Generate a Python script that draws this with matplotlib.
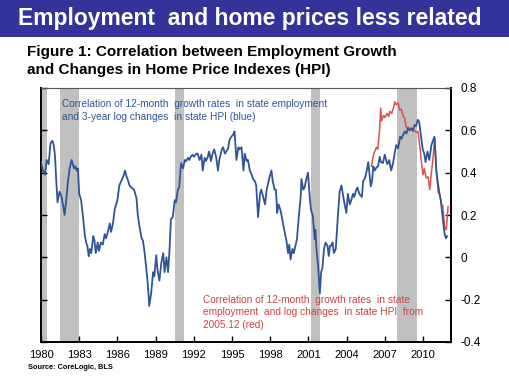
import matplotlib

matplotlib.use("Agg")
import matplotlib.pyplot as plt
from matplotlib.patches import Rectangle

plt.rcParams["font.family"] = ["Liberation Sans", "DejaVu Sans"]

# NBER recessions (start, end) in decimal years
recessions = [(1980.0, 1980.5), (1981.5, 1982.95), (1990.55, 1991.25), (2001.2, 2001.9), (2007.95, 2009.5)]

# correlation of 12-month employment growth and 3-year log HPI changes (blue)
blue_years = [
    1980.0, 1980.15, 1980.3, 1980.45, 1980.6, 1980.75, 1980.9, 1981.0, 1981.1, 1981.2,
    1981.3, 1981.45, 1981.6, 1981.75, 1981.85, 1982.0, 1982.1, 1982.25, 1982.4, 1982.5,
    1982.6, 1982.7, 1982.8, 1982.9, 1983.0, 1983.15, 1983.3, 1983.45, 1983.55, 1983.65,
    1983.75, 1983.85, 1983.95, 1984.1, 1984.2, 1984.3, 1984.45, 1984.55, 1984.7, 1984.85,
    1985.0, 1985.1, 1985.25, 1985.4, 1985.5, 1985.65, 1985.8, 1986.0, 1986.15, 1986.3,
    1986.45, 1986.6, 1986.7, 1986.85, 1986.95, 1987.1, 1987.3, 1987.5, 1987.6, 1987.75,
    1987.9, 1988.0, 1988.1, 1988.25, 1988.4, 1988.5, 1988.65, 1988.8, 1988.9, 1989.05,
    1989.15, 1989.3, 1989.45, 1989.6, 1989.7, 1989.85, 1989.98, 1990.1, 1990.2, 1990.35,
    1990.5, 1990.6, 1990.75, 1990.85, 1991.0, 1991.15, 1991.3, 1991.4, 1991.55, 1991.65,
    1991.75, 1991.9, 1992.0, 1992.2, 1992.3, 1992.45, 1992.6, 1992.7, 1992.85, 1992.95,
    1993.1, 1993.2, 1993.35, 1993.45, 1993.6, 1993.75, 1993.9, 1994.0, 1994.2, 1994.3,
    1994.45, 1994.55, 1994.7, 1994.8, 1994.95, 1995.1, 1995.2, 1995.35, 1995.5, 1995.6,
    1995.75, 1995.9, 1996.0, 1996.15, 1996.25, 1996.4, 1996.55, 1996.65, 1996.8, 1996.9,
    1997.05, 1997.2, 1997.3, 1997.45, 1997.6, 1997.7, 1997.8, 1997.95, 1998.1, 1998.2,
    1998.35, 1998.45, 1998.55, 1998.65, 1998.8, 1998.9, 1999.1, 1999.3, 1999.4, 1999.5,
    1999.6, 1999.75, 1999.85, 1999.98, 2000.1, 2000.25, 2000.4, 2000.45, 2000.6, 2000.7,
    2000.84, 2000.97, 2001.1, 2001.2, 2001.35, 2001.5, 2001.55, 2001.63, 2001.76, 2001.9,
    2002.0, 2002.1, 2002.23, 2002.35, 2002.5, 2002.6, 2002.7, 2002.8, 2002.9, 2003.0,
    2003.15, 2003.3, 2003.45, 2003.6, 2003.7, 2003.85, 2003.98, 2004.1, 2004.25, 2004.37,
    2004.5, 2004.6, 2004.76, 2004.85, 2005.0, 2005.2, 2005.3, 2005.45, 2005.55, 2005.7,
    2005.8, 2005.9, 2006.0, 2006.1, 2006.2, 2006.35, 2006.47, 2006.6, 2006.7, 2006.85,
    2007.0, 2007.1, 2007.2, 2007.35, 2007.5, 2007.65, 2007.8, 2007.9, 2008.05, 2008.2,
    2008.3, 2008.45, 2008.57, 2008.7, 2008.83, 2008.95, 2009.1, 2009.2, 2009.35, 2009.45,
    2009.6, 2009.7, 2009.87, 2009.98, 2010.1, 2010.2, 2010.35, 2010.5, 2010.66, 2010.75,
    2010.9, 2011.05, 2011.15, 2011.3, 2011.4, 2011.58, 2011.7, 2011.8, 2011.9,
]
blue_vals = [
    0.45, 0.41, 0.39, 0.46, 0.44, 0.54, 0.55, 0.53, 0.48, 0.36,
    0.26, 0.31, 0.29, 0.24, 0.20, 0.28, 0.35, 0.42, 0.46, 0.44,
    0.42, 0.43, 0.41, 0.42, 0.30, 0.27, 0.19, 0.10, 0.07, 0.05,
    0.005, 0.04, 0.02, 0.10, 0.08, 0.02, 0.07, 0.03, 0.07, 0.06,
    0.11, 0.09, 0.12, 0.16, 0.12, 0.16, 0.23, 0.27, 0.34, 0.36,
    0.38, 0.41, 0.385, 0.36, 0.34, 0.33, 0.32, 0.28, 0.20, 0.14,
    0.09, 0.08, 0.04, -0.04, -0.135, -0.23, -0.17, -0.07, -0.09, 0.01,
    -0.06, -0.11, -0.025, 0.02, -0.07, 0.00, -0.07, 0.04, 0.18, 0.19,
    0.27, 0.26, 0.32, 0.33, 0.445, 0.42, 0.46, 0.455, 0.47, 0.46,
    0.475, 0.485, 0.475, 0.49, 0.49, 0.46, 0.485, 0.41, 0.47, 0.455,
    0.475, 0.50, 0.455, 0.485, 0.51, 0.475, 0.41, 0.46, 0.51, 0.52,
    0.49, 0.50, 0.515, 0.555, 0.57, 0.58, 0.595, 0.46, 0.52, 0.51,
    0.52, 0.41, 0.49, 0.455, 0.46, 0.41, 0.39, 0.37, 0.36, 0.34,
    0.19, 0.30, 0.32, 0.285, 0.25, 0.31, 0.34, 0.38, 0.41, 0.36,
    0.32, 0.32, 0.21, 0.25, 0.225, 0.195, 0.13, 0.07, 0.02, 0.06,
    -0.01, 0.04, 0.02, 0.055, 0.085, 0.195, 0.29, 0.37, 0.32, 0.33,
    0.37, 0.40, 0.29, 0.225, 0.195, 0.085, 0.13, 0.04, -0.04, -0.17,
    -0.07, -0.05, 0.04, 0.07, 0.055, 0.006, 0.055, 0.055, 0.07, 0.02,
    0.04, 0.18, 0.31, 0.34, 0.30, 0.25, 0.21, 0.30, 0.25, 0.27,
    0.30, 0.285, 0.32, 0.33, 0.30, 0.285, 0.36, 0.375, 0.40, 0.45,
    0.39, 0.335, 0.36, 0.43, 0.41, 0.425, 0.43, 0.475, 0.45, 0.445,
    0.485, 0.46, 0.44, 0.46, 0.41, 0.445, 0.50, 0.53, 0.515, 0.57,
    0.56, 0.58, 0.595, 0.585, 0.61, 0.60, 0.61, 0.60, 0.625, 0.62,
    0.65, 0.64, 0.56, 0.51, 0.49, 0.45, 0.50, 0.46, 0.53, 0.545,
    0.57, 0.41, 0.36, 0.30, 0.27, 0.17, 0.11, 0.09, 0.10,
]

# correlation with log HPI changes from 2005.12 (red)
red_years = [
    2005.95, 2006.08, 2006.2, 2006.34, 2006.45, 2006.6, 2006.68, 2006.75, 2006.9, 2007.0,
    2007.18, 2007.3, 2007.4, 2007.55, 2007.7, 2007.78, 2007.9, 2008.05, 2008.17, 2008.3,
    2008.45, 2008.55, 2008.7, 2008.85, 2008.95, 2009.1, 2009.2, 2009.35, 2009.48, 2009.6,
    2009.74, 2009.87, 2010.0, 2010.1, 2010.25, 2010.4, 2010.53, 2010.66, 2010.8, 2010.92,
    2011.05, 2011.2, 2011.3, 2011.45, 2011.55, 2011.7, 2011.83, 2011.97,
]
red_vals = [
    0.43, 0.475, 0.50, 0.52, 0.51, 0.61, 0.705, 0.645, 0.67, 0.66,
    0.68, 0.665, 0.69, 0.68, 0.71, 0.735, 0.72, 0.73, 0.695, 0.70,
    0.665, 0.66, 0.61, 0.615, 0.60, 0.61, 0.595, 0.60, 0.59, 0.595,
    0.53, 0.455, 0.39, 0.42, 0.375, 0.38, 0.32, 0.40, 0.475, 0.565,
    0.41, 0.305, 0.30, 0.25, 0.245, 0.14, 0.13, 0.24,
]

x_ticks = [1980, 1983, 1986, 1989, 1992, 1995, 1998, 2001, 2004, 2007, 2010]
y_ticks = [-0.4, -0.2, 0, 0.2, 0.4, 0.6, 0.8]
y_labels = ["-0.4", "-0.2", "0", "0.2", "0.4", "0.6", "0.8"]

BLUE = "#2f5597"
RED = "#d9534f"

fig = plt.figure(figsize=(5.09, 3.80), dpi=100)

# header band
fig.add_artist(Rectangle((0, 1 - 37 / 380), 1, 37 / 380, transform=fig.transFigure,
                         facecolor="#333399", edgecolor="none"))
fig.text(18 / 509, 1 - 19 / 380, "Employment  and home prices less related", color="white",
         fontsize=16.5, fontweight="bold", va="center", ha="left")
fig.text(27 / 509, 1 - 61 / 380, "Figure 1: Correlation between Employment Growth\nand Changes in Home Price Indexes (HPI)",
         fontsize=11, fontweight="bold", va="center", ha="left", linespacing=1.28)

ax = fig.add_axes([41 / 509, 38 / 380, 410 / 509, 254 / 380])
for start, end in recessions:
    ax.axvspan(start, end, color="#c0c0c0", lw=0, zorder=0)

ax.plot(blue_years, blue_vals, color=BLUE, lw=1.3, zorder=3)
ax.plot(red_years, red_vals, color=RED, lw=1.1, zorder=2)

ax.set_xlim(1980, 2012.2)
ax.set_ylim(-0.4, 0.8)
ax.set_xticks(x_ticks)
ax.set_xticklabels([str(t) for t in x_ticks], fontsize=8)
ax.set_yticks(y_ticks)
ax.set_yticklabels(y_labels, fontsize=8.5)
ax.yaxis.tick_right()
ax.tick_params(axis="y", which="both", direction="in", length=4, width=1, pad=7,
               left=True, right=True, labelleft=False, labelright=True)
ax.tick_params(axis="x", direction="in", length=4, width=1, pad=6)
for side in ("left", "right", "bottom"):
    ax.spines[side].set_linewidth(1.4)
ax.spines["top"].set_linewidth(0.8)
ax.spines["top"].set_color("#555555")

ax.text(0.05, 0.955, "Correlation of 12-month  growth rates  in state employment\nand 3-year log changes  in state HPI (blue)",
        transform=ax.transAxes, color=BLUE, fontsize=7.3, va="top", ha="left", linespacing=1.3)
ax.text(0.395, 0.185, "Correlation of 12-month  growth rates  in state\nemployment  and log changes  in state HPI  from\n2005.12 (red)",
        transform=ax.transAxes, color="#cc4444", fontsize=7.3, va="top", ha="left", linespacing=1.3)

fig.text(28 / 509, 1 - 367.5 / 380, "Source: CoreLogic, BLS", fontsize=5.3, fontweight="bold",
         va="center", ha="left")

fig.savefig("out.png", dpi=100)
